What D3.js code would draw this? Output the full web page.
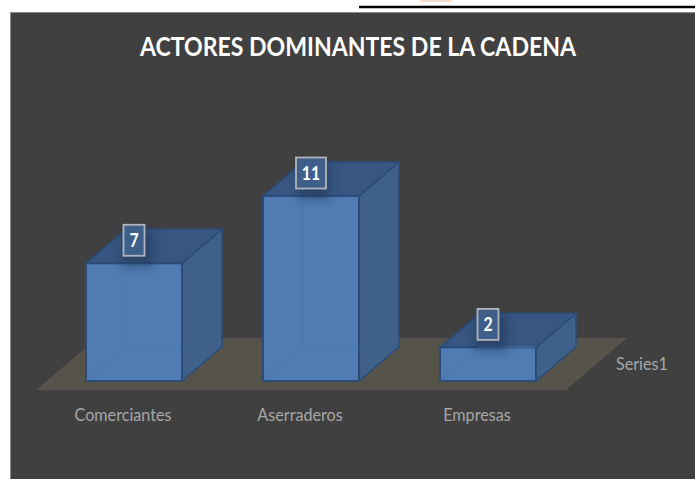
<!DOCTYPE html>
<html>
<head>
<meta charset="utf-8">
<script src="https://cdn.jsdelivr.net/npm/d3@7"></script>
<style>
    html, body { margin: 0; padding: 0; background: #fff; }
    svg { display: block; }
    text { font-family: Lato, "Open Sans", sans-serif; }
</style>
</head>
<body>
<svg id="chart"></svg>
<script>
const categories = ['Comerciantes', 'Aserraderos', 'Empresas'];
const values = [7, 11, 2];
const seriesName = 'Series1';
const chartTitle = 'ACTORES DOMINANTES DE LA CADENA';

const width = 695;
const height = 479;
const depthX = 40;
const depthY = 34;

const svg = d3.select('#chart')
    .attr('width', width)
    .attr('height', height)
    .attr('viewBox', `0 0 ${width} ${height}`);

const x = d3.scaleBand()
    .domain(categories)
    .range([86, 536])
    .paddingInner(0.4576)
    .paddingOuter(0);

const y = d3.scaleLinear()
    .domain([0, 11])
    .range([381, 196]);

const pathOf = pts => d3.line()(pts) + 'Z';

// the reference text is a bit narrower than Lato
function squeeze(sel, k) {
    sel.attr('lengthAdjust', 'spacingAndGlyphs')
        .attr('textLength', function () { return this.getComputedTextLength() * k; });
}

const defs = svg.append('defs');
defs.append('filter')
    .attr('id', 'soft')
    .attr('x', '-50%').attr('y', '-50%')
    .attr('width', '200%').attr('height', '200%')
    .append('feGaussianBlur')
    .attr('stdDeviation', 5);

// scraps of the page around the chart
svg.append('rect').attr('x', 10).attr('y', 12)
    .attr('width', width - 10).attr('height', height - 12)
    .attr('fill', '#404040');
svg.append('line').attr('x1', 10.5).attr('x2', 10.5).attr('y1', 12).attr('y2', height)
    .attr('stroke', '#8a8a8a').attr('stroke-width', 1);
svg.append('line').attr('x1', 10).attr('x2', width).attr('y1', 12.5).attr('y2', 12.5)
    .attr('stroke', '#8a8a8a').attr('stroke-width', 1);
svg.append('line').attr('x1', 359).attr('x2', width).attr('y1', 7).attr('y2', 7)
    .attr('stroke', '#000').attr('stroke-width', 2.5);
svg.append('rect').attr('x', 420).attr('y', 0).attr('width', 32).attr('height', 2)
    .attr('fill', '#f6dccb');

svg.append('text')
    .attr('x', 358).attr('y', 55.5)
    .attr('text-anchor', 'middle')
    .attr('font-size', 26)
    .attr('font-weight', 700)
    .attr('fill', '#fff')
    .attr('textLength', 436)
    .attr('lengthAdjust', 'spacingAndGlyphs')
    .text(chartTitle);

// floor
const floorLeft = x.range()[0] - 50;
const floorRight = x.range()[1] + 30;
svg.append('path')
    .attr('d', pathOf([
        [floorLeft, y(0) + 9],
        [floorRight, y(0) + 9],
        [floorRight + 61, y(0) - 43],
        [floorLeft + 61, y(0) - 43]
    ]))
    .attr('fill', '#56534a');

const rows = categories.map((name, i) => ({ name, value: values[i] }));

const bars = svg.append('g').selectAll('g')
    .data(rows)
    .enter()
    .append('g');

const stroke = '#2b4c78';

bars.append('path')
    .attr('d', d => {
        const r = x(d.name) + x.bandwidth();
        return pathOf([
            [r, y(d.value)],
            [r + depthX, y(d.value) - depthY],
            [r + depthX, y(0) - depthY],
            [r, y(0)]
        ]);
    })
    .attr('fill', '#3f6088')
    .attr('stroke', stroke)
    .attr('stroke-width', 1.5);

bars.append('path')
    .attr('d', d => {
        const l = x(d.name);
        const r = l + x.bandwidth();
        return pathOf([
            [l, y(d.value)],
            [r, y(d.value)],
            [r + depthX, y(d.value) - depthY],
            [l + depthX, y(d.value) - depthY]
        ]);
    })
    .attr('fill', '#375681')
    .attr('stroke', stroke)
    .attr('stroke-width', 1.5);

bars.append('rect')
    .attr('x', d => x(d.name))
    .attr('y', d => y(d.value))
    .attr('width', x.bandwidth())
    .attr('height', d => y(0) - y(d.value))
    .attr('fill', '#507cb3')
    .attr('stroke', stroke)
    .attr('stroke-width', 2);

// hidden edges show through the see-through front face
bars.append('path')
    .attr('d', d => {
        const l = x(d.name);
        const r = l + x.bandwidth();
        return d3.line()([
            [l + 1, y(0) - 1],
            [l + depthX, y(0) - depthY],
            [r - 1, y(0) - depthY]
        ]) + d3.line()([
            [l + depthX, y(0) - depthY],
            [l + depthX, y(d.value) + 1]
        ]);
    })
    .attr('fill', 'none')
    .attr('stroke', '#4a78b3')
    .attr('stroke-width', 1.2);

// shadow under the label
const labelX = d => x(d.name) + x.bandwidth() / 2;
const labelY = d => y(d.value) - 23;

bars.append('rect')
    .attr('x', d => labelX(d) - 13)
    .attr('y', d => labelY(d) - 10)
    .attr('width', 32)
    .attr('height', 36)
    .attr('fill', '#24395a')
    .attr('opacity', 0.6)
    .attr('filter', 'url(#soft)');

bars.append('rect')
    .attr('x', d => labelX(d) - (d.value > 9 ? 15 : 10.5))
    .attr('y', d => labelY(d) - 15.5)
    .attr('width', d => d.value > 9 ? 30 : 21)
    .attr('height', 31)
    .attr('fill', '#3f5f8b')
    .attr('stroke', '#b0b4ba')
    .attr('stroke-width', 1.8);

bars.append('text')
    .attr('x', labelX)
    .attr('y', d => labelY(d) + 6.5)
    .attr('text-anchor', 'middle')
    .attr('font-size', 18)
    .attr('font-weight', 700)
    .attr('fill', '#fff')
    .text(d => d.value)
    .call(squeeze, 0.88);

// axis names
svg.append('g').selectAll('text')
    .data(categories)
    .enter()
    .append('text')
    .attr('x', d => x(d) + x.bandwidth() / 2 - 11)
    .attr('y', 421)
    .attr('text-anchor', 'middle')
    .attr('font-size', 17)
    .attr('fill', '#a6a6a6')
    .text(d => d)
    .call(squeeze, 0.95);

svg.append('text')
    .attr('x', 616).attr('y', 370)
    .attr('font-size', 17)
    .attr('fill', '#a6a6a6')
    .text(seriesName)
    .call(squeeze, 0.95);
</script>
</body>
</html>
